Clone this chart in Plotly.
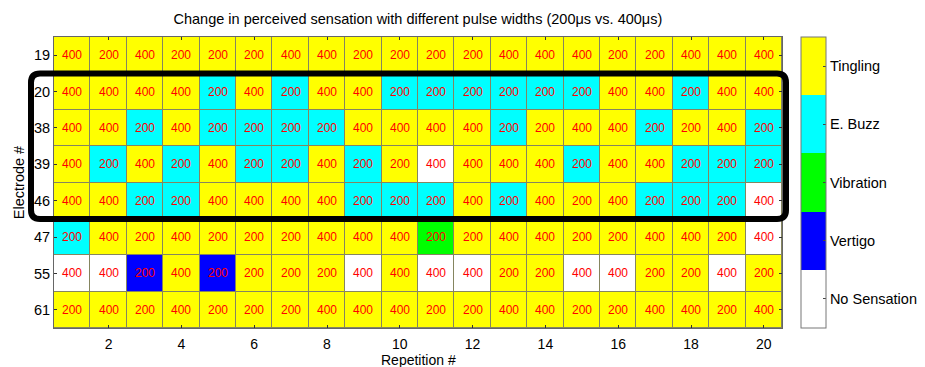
import plotly.graph_objects as go

# ---- data ----
electrodes = ["19", "20", "38", "39", "46", "47", "55", "61"]
repetitions = list(range(1, 21))
sensation_labels = ["No Sensation", "Vertigo", "Vibration", "E. Buzz", "Tingling"]
sensation_colors = ["#FFFFFF", "#0000FF", "#00FF00", "#00FFFF", "#FFFF00"]

# Sensation code per cell: 0 No Sensation, 1 Vertigo, 2 Vibration, 3 E. Buzz, 4 Tingling
sens_19 = [4, 4, 4, 4, 4, 4, 4, 4, 4, 4, 4, 4, 4, 4, 4, 4, 4, 4, 4, 4]
sens_20 = [4, 4, 4, 4, 3, 4, 3, 4, 4, 3, 3, 3, 3, 3, 3, 4, 4, 3, 4, 4]
sens_38 = [4, 4, 3, 4, 3, 3, 3, 3, 4, 4, 4, 4, 3, 4, 4, 4, 3, 4, 4, 3]
sens_39 = [4, 3, 4, 3, 4, 3, 3, 4, 3, 4, 0, 4, 4, 4, 3, 4, 4, 3, 3, 3]
sens_46 = [4, 4, 3, 3, 4, 4, 4, 4, 3, 3, 3, 4, 3, 4, 4, 4, 3, 3, 3, 0]
sens_47 = [3, 4, 4, 4, 4, 4, 4, 4, 4, 4, 2, 4, 4, 4, 4, 4, 4, 4, 4, 0]
sens_55 = [0, 0, 1, 4, 1, 4, 4, 4, 0, 4, 0, 0, 4, 4, 0, 0, 4, 4, 0, 4]
sens_61 = [4, 4, 4, 4, 4, 4, 4, 4, 4, 4, 4, 4, 4, 4, 4, 4, 4, 4, 4, 4]

# Pulse width (us) shown in each cell
pw_19 = [400, 200, 400, 200, 200, 200, 400, 400, 200, 200, 200, 200, 400, 400, 400, 200, 200, 400, 400, 400]
pw_20 = [400, 400, 400, 400, 200, 400, 200, 400, 400, 200, 200, 200, 200, 200, 200, 400, 400, 200, 400, 400]
pw_38 = [400, 400, 200, 400, 200, 200, 200, 200, 400, 400, 400, 400, 200, 200, 400, 400, 200, 200, 400, 200]
pw_39 = [400, 200, 400, 200, 400, 200, 200, 400, 200, 200, 400, 400, 400, 400, 200, 400, 400, 200, 200, 200]
pw_46 = [400, 400, 200, 200, 400, 400, 400, 400, 200, 200, 200, 400, 200, 400, 200, 400, 200, 200, 200, 400]
pw_47 = [200, 400, 200, 400, 200, 200, 200, 400, 400, 400, 200, 200, 400, 400, 200, 200, 400, 400, 200, 400]
pw_55 = [400, 400, 200, 400, 200, 200, 200, 200, 400, 400, 400, 400, 200, 200, 400, 400, 200, 200, 400, 200]
pw_61 = [200, 400, 200, 400, 200, 200, 200, 400, 400, 400, 200, 200, 400, 400, 200, 200, 400, 400, 200, 400]

highlighted_rows = ["20", "38", "39", "46"]

x_ticks = list(range(2, 21, 2))

z = [sens_19, sens_20, sens_38, sens_39, sens_46, sens_47, sens_55, sens_61]
txt = [[str(v) for v in row] for row in [pw_19, pw_20, pw_38, pw_39, pw_46, pw_47, pw_55, pw_61]]
y_idx = list(range(len(electrodes)))

n = len(sensation_colors)
colorscale = []
for i, c in enumerate(sensation_colors):
    colorscale.append([i / n, c])
    colorscale.append([(i + 1) / n, c])

FONT = "Arial, 'Liberation Sans', sans-serif"
LBL = 14.5

fig = go.Figure()
fig.add_trace(go.Heatmap(
    z=z, x=repetitions, y=y_idx,
    text=txt, texttemplate="%{text}",
    textfont=dict(color="#FF0000", size=12, family=FONT),
    colorscale=colorscale, zmin=-0.5, zmax=n - 0.5,
    xgap=1, ygap=1,
    colorbar=dict(
        tickmode="array", tickvals=list(range(n)), ticktext=sensation_labels,
        x=1.0257, xanchor="left", xpad=0,
        y=0.5, yanchor="middle", len=1.0, lenmode="fraction", ypad=0,
        thickness=25, outlinecolor="#777777", outlinewidth=1,
        ticks="inside", ticklen=3, tickcolor="#444444",
        tickfont=dict(size=LBL, family=FONT, color="black"),
    ),
    hoverinfo="skip",
))

# rounded highlight box around selected electrodes (paper coords)
top_i = electrodes.index(highlighted_rows[0])
bot_i = electrodes.index(highlighted_rows[-1]) + 1
nr = len(electrodes)
y0 = 1 - top_i / nr
y1 = 1 - bot_i / nr
pw_px, ph_px = 728, 291
x0 = (31 - 54) / pw_px
x1 = (786 - 54) / pw_px
rx = 9 / pw_px
ry = 9 / ph_px
path = (f"M {x0+rx},{y0} L {x1-rx},{y0} Q {x1},{y0} {x1},{y0-ry} "
        f"L {x1},{y1+ry} Q {x1},{y1} {x1-rx},{y1} "
        f"L {x0+rx},{y1} Q {x0},{y1} {x0},{y1+ry} "
        f"L {x0},{y0-ry} Q {x0},{y0} {x0+rx},{y0} Z")
fig.add_shape(type="path", path=path, xref="paper", yref="paper",
              line=dict(color="black", width=6), fillcolor="rgba(0,0,0,0)")

# x-axis title as annotation (placed below tick labels)
fig.add_annotation(text="Repetition #", xref="paper", yref="paper",
                   x=0.5, y=-(359.5 - 328) / ph_px, xanchor="center", yanchor="middle",
                   showarrow=False, font=dict(size=14, family=FONT, color="black"))

fig.update_layout(
    width=925, height=367,
    margin=dict(l=54, r=143, t=37, b=39, autoexpand=False),
    paper_bgcolor="white", plot_bgcolor="#858560",
    font=dict(family=FONT, size=13, color="black"),
    title=dict(text="Change in perceived sensation with different pulse widths (200μs vs. 400μs)",
               x=0.4518, xanchor="center", y=1 - 19 / 367, yanchor="middle",
               font=dict(size=LBL, family=FONT, color="black")),
)
fig.update_xaxes(
    range=[0.5, 20.5], tickmode="array", tickvals=x_ticks,
    ticks="inside", ticklen=3, tickcolor="#333333",
    showline=True, linecolor="#666666", linewidth=1, mirror="ticks",
    showgrid=False, zeroline=False, ticklabelstandoff=3, automargin=False,
    tickfont=dict(size=14),
)
fig.update_yaxes(
    range=[nr - 0.5, -0.5], tickmode="array", tickvals=y_idx, ticktext=electrodes,
    ticks="inside", ticklen=3, tickcolor="#333333",
    showline=True, linecolor="#666666", linewidth=1, mirror="ticks",
    showgrid=False, zeroline=False, automargin=False,
    title=dict(text="Electrode #", standoff=5, font=dict(size=LBL)),
    tickfont=dict(size=14.5),
)

fig.write_html("out.html")
